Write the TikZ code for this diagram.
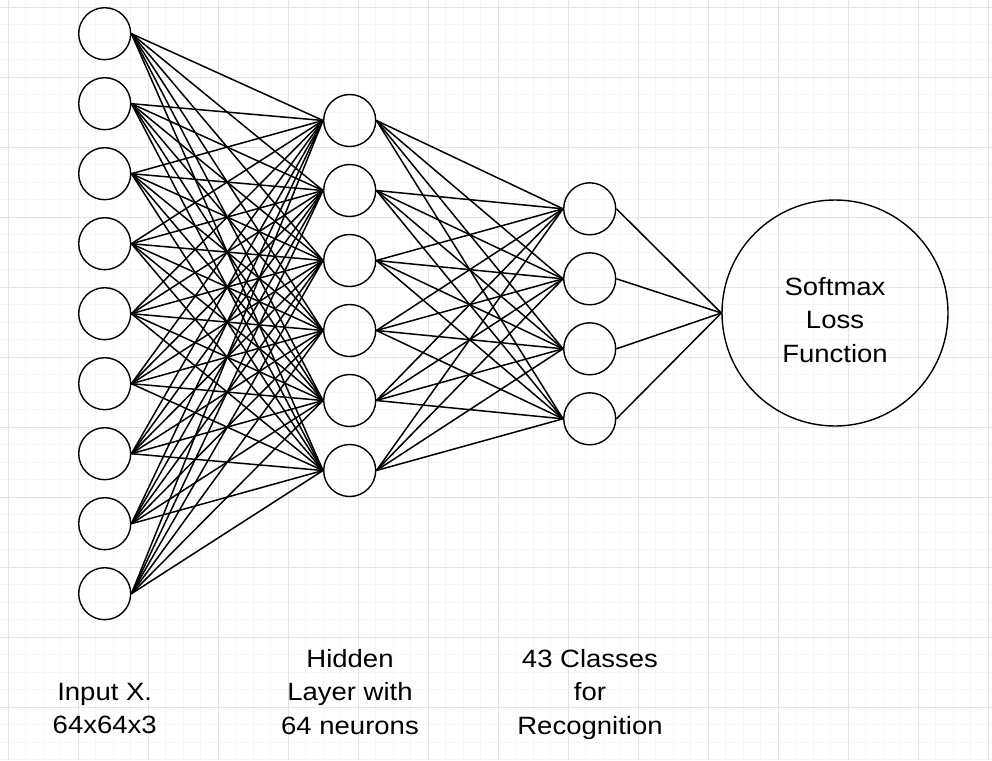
\documentclass[tikz,border=0pt]{standalone}
\usepackage{fontspec}
\setmainfont{Liberation Sans}[FakeStretch=1.1]
\definecolor{gridminor}{RGB}{246,246,246}
\definecolor{gridmajor}{RGB}{228,228,228}
\begin{document}
\begin{tikzpicture}[x=1pt,y=-1pt,
		neuron/.style={circle, draw, line width=1.4pt, minimum size=52pt, inner sep=0pt},
		lossnode/.style={circle, draw, line width=1.4pt, minimum size=226pt, inner sep=0pt},
		layerlabel/.style={align=center, font=\fontsize{25}{33.3}\selectfont},
		link/.style={line width=1.5pt}]
				\useasboundingbox (0,0) rectangle (992,760);
				% Grid
				\foreach \i in {0,...,56} {
					\draw [gridminor, line width=0.8pt] (8.3+17.5*\i,0) -- (8.3+17.5*\i,760);
				}
				\foreach \i in {0,...,43} {
					\draw [gridminor, line width=0.8pt] (0,7.3+17.5*\i) -- (992,7.3+17.5*\i);
				}
				\foreach \i in {0,...,14} {
					\draw [gridmajor, line width=0.8pt] (8.3+70*\i,0) -- (8.3+70*\i,760);
				}
				\foreach \i in {0,...,10} {
					\draw [gridmajor, line width=0.8pt] (0,7.3+70*\i) -- (992,7.3+70*\i);
				}

			 	% Nodes
			 	\foreach \i in {1,...,9} {
			 		\node[neuron] (in\i) at (104.7,33.7+70*\i-70) {};
			 	}
			 	\foreach \i in {1,...,6} {
			 		\node[neuron] (hid\i) at (349.7,120.5+70*\i-70) {};
			 	}
			 	\foreach \i in {1,...,4} {
			 		\node[neuron] (out\i) at (589.7,208.8+70*\i-70) {};
			 	}
			 	\node[lossnode] (loss) at (835,313) {};
			 	\node[layerlabel] (losstext) at (835,320) {Softmax\\Loss\\Function};

			 	% Links
			 	\foreach \i in {1,...,9} {
			 		\foreach \j in {1,...,6} {
			 			\draw[link] (in\i.east) -- (hid\j.west);
			 		}
			 	}
			 	\foreach \i in {1,...,6} {
			 		\foreach \j in {1,...,4} {
			 			\draw[link] (hid\i.east) -- (out\j.west);
			 		}
			 	}
			 	\foreach \j in {1,...,4} {
			 		\draw[link] (out\j.east) -- (loss.west);
			 	}

			 	% Labels
			 	\node[layerlabel] (inlabel) at (104.7,708.4) {Input X.\\64x64x3};
			 	\node[layerlabel] (hidlabel) at (350,692) {Hidden\\Layer with\\64 neurons};
			 	\node[layerlabel] (outlabel) at (590,694.5) {43 Classes\\for\\Recognition};
			\end{tikzpicture}
\end{document}
